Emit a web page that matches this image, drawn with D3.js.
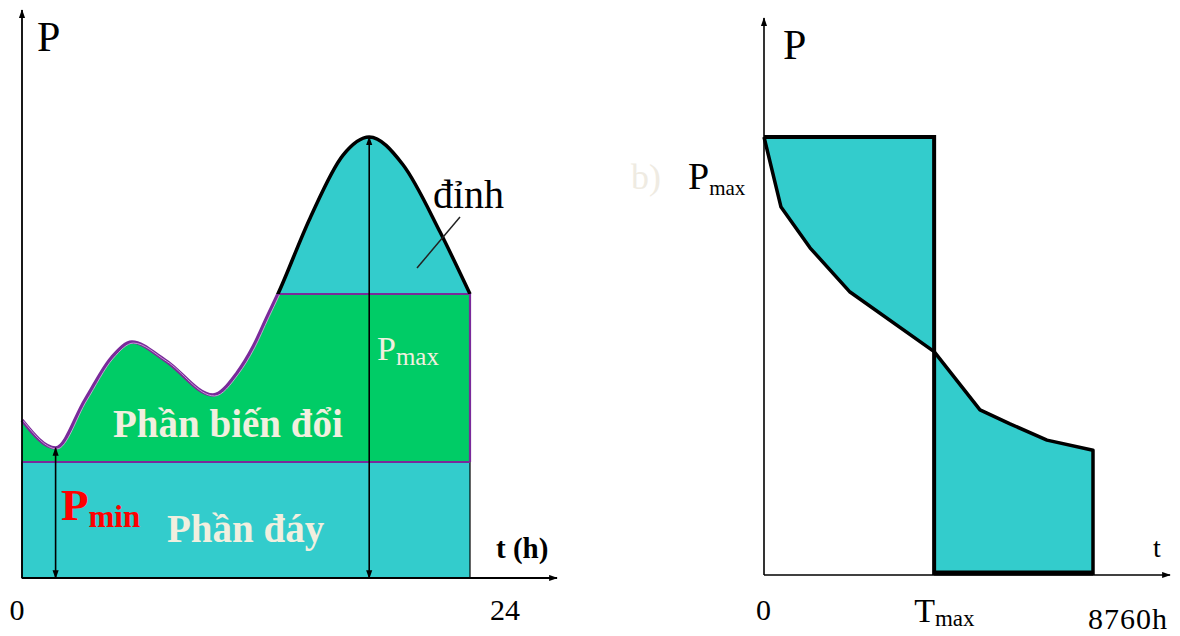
<!DOCTYPE html>
<html>
<head>
<meta charset="utf-8">
<script src="https://cdn.jsdelivr.net/npm/d3@7"></script>
<style>
  body { margin: 0; background: #fff; }
  svg { display: block; font-family: "Liberation Serif", "Times New Roman", serif; }
</style>
</head>
<body>
<svg id="chart"></svg>
<script>
// daily load curve (left), hours vs load in % of Pmax
const hours = [0, 1.8, 3.38, 4.82, 5.89, 7.66, 10.23, 11.52, 12.38, 13.13, 13.71, 15.43, 17.2, 18.6, 20.41, 22.39, 24];
const load = [35.8, 29.5, 40.4, 50.1, 53.5, 49.4, 41.5, 46.5, 52.4, 59.2, 64.4, 81.6, 95.9, 100, 93.7, 78.5, 64.4];
const baseLevel = 26.3; // Phần đáy top
const peakLevel = 64.4; // Phần biến đổi top
const dayTicks = ["0", "24"];

// annual load duration curve (right)
const durHours = [0, 453, 1225, 2290, 4530, 5751, 6550, 7535, 8760];
const durLoad = [100, 84, 74.7, 64.6, 51, 37.7, 34.5, 30.8, 28.5];
const Tmax = 4530;
const yearTicks = ["0", "8760h"];

const teal = "#33cccc";
const green = "#00cc66";
const purple = "#7a2a9a";
const cream = "#f1efdf";

const W = 1180, H = 636;
const svg = d3.select("#chart").attr("width", W).attr("height", H);

const defs = svg.append("defs");
defs.append("marker")
  .attr("id", "arr")
  .attr("viewBox", "0 -4 10 8")
  .attr("refX", 9).attr("refY", 0)
  .attr("markerWidth", 9).attr("markerHeight", 7)
  .attr("markerUnits", "userSpaceOnUse")
  .attr("orient", "auto-start-reverse")
  .append("path").attr("d", "M0,-3.5L10,0L0,3.5Z").attr("fill", "#000");

// ---------- left chart ----------
const xL = d3.scaleLinear().domain([0, 24]).range([22, 470]);
const yL = d3.scaleLinear().domain([0, 100]).range([578, 137]);
const day = hours.map((h, i) => ({ t: h, p: load[i] }));
const left = svg.append("g");

const smooth = d3.curveMonotoneX;
const curveLine = d3.line().x(d => xL(d.t)).y(d => yL(d.p)).curve(smooth);

defs.append("clipPath").attr("id", "below")
  .append("rect").attr("x", 0).attr("y", yL(peakLevel)).attr("width", 600).attr("height", 400);
defs.append("clipPath").attr("id", "above")
  .append("rect").attr("x", 0).attr("y", 0).attr("width", 600).attr("height", yL(peakLevel));

// base part
left.append("rect")
  .attr("x", xL(0)).attr("y", yL(baseLevel))
  .attr("width", xL(24) - xL(0)).attr("height", yL(0) - yL(baseLevel))
  .attr("fill", teal).attr("stroke", "#000").attr("stroke-width", 1.2);

// variable part
left.append("path")
  .datum(day)
  .attr("d", d3.area().x(d => xL(d.t)).y0(yL(baseLevel)).y1(d => yL(d.p)).curve(smooth))
  .attr("fill", green);

// peak part
left.append("path")
  .datum(day)
  .attr("clip-path", "url(#above)")
  .attr("d", d3.area().x(d => xL(d.t)).y0(yL(peakLevel)).y1(d => yL(d.p)).curve(smooth))
  .attr("fill", teal);

// purple outline of variable part
left.append("path").datum(day)
  .attr("clip-path", "url(#below)")
  .attr("d", curveLine)
  .attr("fill", "none").attr("stroke", purple).attr("stroke-width", 3.5);
left.append("path").datum(day)
  .attr("clip-path", "url(#below)")
  .attr("d", curveLine)
  .attr("fill", "none").attr("stroke", "#d9b8e6").attr("stroke-width", 0.8)
  .attr("transform", "translate(1.5,1)");
left.append("path")
  .attr("d", d3.line()([
    [xL(13.71), yL(peakLevel)], [xL(24), yL(peakLevel)], [xL(24), yL(baseLevel)]
  ]))
  .attr("fill", "none").attr("stroke", purple).attr("stroke-width", 2.2);
left.append("line")
  .attr("x1", xL(0)).attr("x2", xL(24))
  .attr("y1", yL(baseLevel)).attr("y2", yL(baseLevel))
  .attr("stroke", purple).attr("stroke-width", 2);

// black peak outline
left.append("path").datum(day)
  .attr("clip-path", "url(#above)")
  .attr("d", curveLine)
  .attr("fill", "none").attr("stroke", "#000").attr("stroke-width", 3.5);

// axes
left.append("line")
  .attr("x1", xL(0)).attr("x2", xL(0)).attr("y1", yL(0)).attr("y2", 10)
  .attr("stroke", "#000").attr("stroke-width", 1.8).attr("marker-end", "url(#arr)");
left.append("line")
  .attr("x1", xL(0)).attr("x2", 557).attr("y1", yL(0)).attr("y2", yL(0))
  .attr("stroke", "#000").attr("stroke-width", 1.8).attr("marker-end", "url(#arr)");

// Pmin / Pmax arrows
const minPt = day[1], maxPt = day[13];
left.append("line")
  .attr("x1", xL(minPt.t)).attr("x2", xL(minPt.t)).attr("y1", yL(0)).attr("y2", yL(minPt.p))
  .attr("stroke", "#000").attr("stroke-width", 1.6)
  .attr("marker-start", "url(#arr)").attr("marker-end", "url(#arr)");
left.append("line")
  .attr("x1", xL(maxPt.t)).attr("x2", xL(maxPt.t)).attr("y1", yL(0)).attr("y2", yL(maxPt.p))
  .attr("stroke", "#000").attr("stroke-width", 1.6)
  .attr("marker-start", "url(#arr)").attr("marker-end", "url(#arr)");

// đỉnh leader
left.append("line")
  .attr("x1", 460).attr("y1", 217).attr("x2", 417).attr("y2", 268)
  .attr("stroke", "#222").attr("stroke-width", 1.5);

// labels
left.append("text").attr("x", 37).attr("y", 51).attr("font-size", 42).text("P");
left.append("text").attr("x", 433).attr("y", 208).attr("font-size", 40).text("đỉnh");
left.append("text").attr("x", 113).attr("y", 437).attr("font-size", 39)
  .attr("font-weight", "bold").attr("fill", cream).text("Phần biến đổi");
left.append("text").attr("x", 167).attr("y", 542).attr("font-size", 39)
  .attr("font-weight", "bold").attr("fill", cream).text("Phần đáy");

const pmaxL = left.append("text").attr("x", 377).attr("y", 360).attr("fill", cream);
pmaxL.append("tspan").attr("font-size", 34).text("P");
pmaxL.append("tspan").attr("font-size", 25).attr("dy", 5).text("max");

const pmin = left.append("text").attr("x", 61).attr("y", 520).attr("fill", "#ff0000").attr("font-weight", "bold");
pmin.append("tspan").attr("font-size", 45).text("P");
pmin.append("tspan").attr("font-size", 31).attr("dy", 7).text("min");

left.append("text").attr("x", 496).attr("y", 558).attr("font-size", 29)
  .attr("font-weight", "bold").text("t (h)");

left.selectAll(".dtick").data(dayTicks).join("text")
  .attr("class", "dtick")
  .attr("x", (d, i) => xL(+d) + (i === 0 ? -5 : 35))
  .attr("y", 620).attr("font-size", 30).attr("text-anchor", "middle")
  .text(d => d);

// ---------- right chart ----------
const xR = d3.scaleLinear().domain([0, 8760]).range([764, 1093]);
const yR = d3.scaleLinear().domain([0, 100]).range([575, 137]);
const dur = durHours.map((h, i) => ({ t: h, p: durLoad[i] }));
const right = svg.append("g");
const pt = d => [xR(d.t), yR(d.p)];

const upper = dur.filter(d => d.t <= Tmax).map(pt).concat([[xR(Tmax), yR(100)]]);
const lower = dur.filter(d => d.t >= Tmax).map(pt).concat([[xR(8760), yR(0)], [xR(Tmax), yR(0)]]);
right.append("path").attr("d", d3.line()(upper) + "Z").attr("fill", teal);
right.append("path").attr("d", d3.line()(lower) + "Z").attr("fill", teal);

// axes
right.append("line")
  .attr("x1", xR(0)).attr("x2", xR(0)).attr("y1", yR(0)).attr("y2", 18)
  .attr("stroke", "#000").attr("stroke-width", 1.6).attr("marker-end", "url(#arr)");
right.append("line")
  .attr("x1", xR(0)).attr("x2", 1170).attr("y1", yR(0)).attr("y2", yR(0))
  .attr("stroke", "#000").attr("stroke-width", 1.6).attr("marker-end", "url(#arr)");

// outlines
right.append("path")
  .attr("d", d3.line()([[xR(0), yR(100)], [xR(Tmax), yR(100)], [xR(Tmax), yR(0)]]))
  .attr("fill", "none").attr("stroke", "#000").attr("stroke-width", 4);
right.append("path")
  .attr("d", d3.line()(dur.map(pt).concat([[xR(8760), yR(0)]])))
  .attr("fill", "none").attr("stroke", "#000").attr("stroke-width", 3.5).attr("stroke-linejoin", "round");
right.append("line")
  .attr("x1", xR(Tmax)).attr("x2", xR(8760)).attr("y1", yR(0) - 2).attr("y2", yR(0) - 2)
  .attr("stroke", "#000").attr("stroke-width", 5);

// labels
right.append("text").attr("x", 783).attr("y", 59).attr("font-size", 42).text("P");
right.append("text").attr("x", 631).attr("y", 189).attr("font-size", 36).attr("fill", "#efebe2").text("b)");
const pmaxR = right.append("text").attr("x", 688).attr("y", 189);
pmaxR.append("tspan").attr("font-size", 38).text("P");
pmaxR.append("tspan").attr("font-size", 21).attr("dy", 6).text("max");
right.append("text").attr("x", 1153).attr("y", 557).attr("font-size", 28).text("t");

right.selectAll(".ytick").data(yearTicks).join("text")
  .attr("class", "ytick")
  .attr("x", (d, i) => i === 0 ? xR(0) : xR(8760) + 35)
  .attr("y", (d, i) => i === 0 ? 620 : 629)
  .attr("font-size", 30).attr("text-anchor", "middle").attr("letter-spacing", 1)
  .text(d => d);
const tmaxLbl = right.append("text").attr("x", xR(Tmax) - 20).attr("y", 622);
tmaxLbl.append("tspan").attr("font-size", 34).text("T");
tmaxLbl.append("tspan").attr("font-size", 23).attr("dy", 4).text("max");
</script>
</body>
</html>
